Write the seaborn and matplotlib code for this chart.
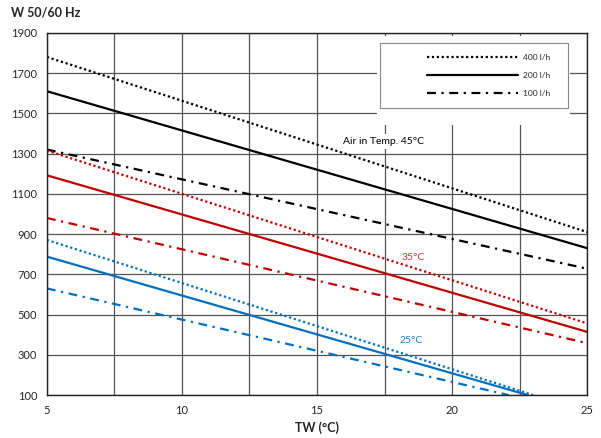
import numpy as np
import pandas as pd
import seaborn as sns
import matplotlib
matplotlib.use("Agg")
import matplotlib.pyplot as plt
from matplotlib.patches import Rectangle

# dados (pontos inicial e final de cada reta)
flows = ["400 l/h", "200 l/h", "100 l/h"]
temps = ["45°C", "35°C", "25°C"]

tw_45 = [[5, 25], [5, 25], [5, 25]]
w_45 = [[1780, 910], [1610, 830], [1320, 728]]
tw_35 = [[5, 25], [5, 25], [5, 25]]
w_35 = [[1315, 456], [1192, 414], [980, 358]]
tw_25 = [[5, 23.0], [5, 22.8], [5, 22.1]]
w_25 = [[871, 100], [788, 100], [630, 100]]

labels_txt = ["Air in Temp. 45°C", "35°C", "25°C"]
label_x = [17.45, 18.55, 18.5]
label_y = [1359, 786, 369]

# montando um dataframe longo
rows = []
for temp, tws, ws in zip(temps, [tw_45, tw_35, tw_25], [w_45, w_35, w_25]):
    for flow, tw, w in zip(flows, tws, ws):
        for a, b in zip(tw, w):
            rows.append({"TW": a, "W": b, "temp": temp, "flow": flow})
df = pd.DataFrame(rows)

sns.set_style("white")
plt.rcParams["font.family"] = ["Lato", "DejaVu Sans"]

cores = {"45°C": "#000000", "35°C": "#C00000", "25°C": "#0070C0"}
cores_txt = {"45°C": "#000000", "35°C": "#E8302A", "25°C": "#1F80D0"}
estilos = {"400 l/h": (1, 1.2), "200 l/h": (None, None), "100 l/h": (4, 2.5, 1, 2.5)}

fig = plt.figure(figsize=(6.01, 4.38), dpi=100)
ax = fig.add_axes([0.078, 0.098, 0.899, 0.827])

for temp in temps:
    for flow in flows:
        sub = df[(df.temp == temp) & (df.flow == flow)]
        sns.lineplot(data=sub, x="TW", y="W", color=cores[temp], linewidth=1.6,
                     ax=ax, legend=False, sort=False, estimator=None)
        l = ax.lines[-1]
        if estilos[flow][0] is not None:
            l.set_dashes(estilos[flow])

for txt, x, y, t in zip(labels_txt, label_x, label_y, temps):
    kw = {}
    if t == "45°C":
        kw["bbox"] = dict(facecolor="white", edgecolor="none", pad=2)
    ax.text(x, y, txt, color=cores_txt[t], fontsize=7.5, ha="center", va="center",
            zorder=2.5, **kw)

ax.set_xlim(5, 25)
ax.set_ylim(100, 1900)
ax.set_xticks([5, 10, 15, 20, 25])
ax.set_xticks(np.arange(5, 25.1, 2.5), minor=True)
ax.set_yticks(np.arange(100, 1901, 200))
ax.grid(True, which="both", axis="x", color="#555555", linewidth=0.9)
ax.grid(True, which="major", axis="y", color="#555555", linewidth=0.9)
ax.set_axisbelow(True)
ax.tick_params(axis="both", which="both", length=0, labelsize=8, pad=7)
for s in ax.spines.values():
    s.set_color("#222222")
    s.set_linewidth(1.0)

ax.set_xlabel("TW (°C)", fontsize=9, fontweight="bold", labelpad=4)
ax.set_ylabel("")
fig.text(0.018, 0.972, "W 50/60 Hz", fontsize=9, fontweight="bold", ha="left", va="center")

# área branca e caixa da legenda
ax.add_patch(Rectangle((0.611, 0.745), 0.357, 0.245, transform=ax.transAxes,
                       facecolor="white", edgecolor="none", zorder=0.9))
ax.add_patch(Rectangle((0.617, 0.793), 0.348, 0.179, transform=ax.transAxes,
                       facecolor="white", edgecolor="#888888", linewidth=0.8, zorder=3))
handles = []
for flow in flows:
    h, = ax.plot([], [], color="black", linewidth=1.6)
    if estilos[flow][0] is not None:
        h.set_dashes(estilos[flow])
    handles.append(h)
leg = ax.legend(handles, flows, loc="upper right", bbox_to_anchor=(0.932, 0.942),
                frameon=False, fontsize=6, handlelength=11, handletextpad=0.6,
                labelspacing=1.35, borderpad=0, borderaxespad=0)
leg.set_zorder(4)

fig.savefig("out.png", dpi=100)
